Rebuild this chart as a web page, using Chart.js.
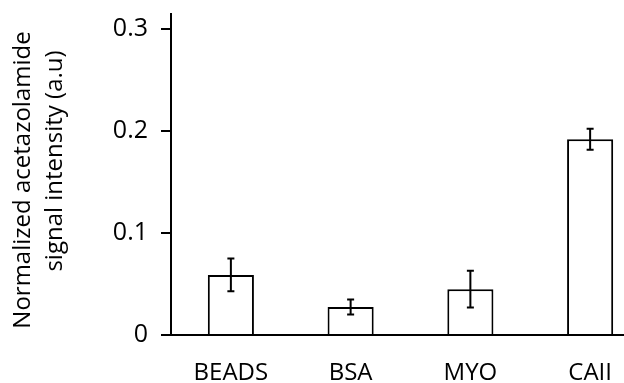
<!DOCTYPE html>
<html>
<head>
<meta charset="utf-8">
<script src="https://cdn.jsdelivr.net/npm/chart.js@4/dist/chart.umd.min.js"></script>
<style>
  html, body { margin: 0; padding: 0; background: #fff; overflow: hidden; }
  #wrap { position: relative; width: 664px; height: 383px; }
</style>
</head>
<body>
<div id="wrap"><canvas id="chart"></canvas></div>
<script>
// data
const categories = ['BEADS', 'BSA', 'MYO', 'CAII'];
const signal = [0.059, 0.0275, 0.045, 0.192];
const signalErr = [0.016, 0.0074, 0.018, 0.0103];
const yTicks = [0, 0.1, 0.2, 0.3];
const yTitle = ['Normalized acetazolamide', 'signal intensity (a.u)'];

const FONT = 'Open Sans';

// error bars drawn from the scales
const errorBars = {
    id: 'errorBars',
    afterDatasetsDraw(chart) {
        const ctx = chart.ctx;
        const y = chart.scales.y;
        const meta = chart.getDatasetMeta(0);
        ctx.save();
        ctx.strokeStyle = '#000';
        ctx.lineWidth = 2;
        meta.data.forEach((bar, i) => {
            const x = bar.x;
            const top = y.getPixelForValue(signal[i] + signalErr[i]);
            const bot = y.getPixelForValue(signal[i] - signalErr[i]);
            ctx.beginPath();
            ctx.moveTo(x, top); ctx.lineTo(x, bot);
            ctx.moveTo(x - 3.5, top); ctx.lineTo(x + 3.5, top);
            ctx.moveTo(x - 3.5, bot); ctx.lineTo(x + 3.5, bot);
            ctx.stroke();
        });
        ctx.restore();
    }
};

// two-line rotated y title
const sideTitle = {
    id: 'sideTitle',
    afterDraw(chart) {
        const ctx = chart.ctx;
        ctx.save();
        ctx.fillStyle = '#000';
        ctx.font = '24px ' + FONT;
        ctx.textAlign = 'center';
        ctx.textBaseline = 'middle';
        ctx.translate(23, 180);
        ctx.rotate(-Math.PI / 2);
        ctx.fillText(yTitle[0], 0, 0);
        ctx.fillText(yTitle[1], 19, 32);
        ctx.restore();
    }
};

const ctx = document.getElementById('chart').getContext('2d');
new Chart(ctx, {
    type: 'bar',
    data: {
        labels: categories,
        datasets: [{
            data: signal,
            backgroundColor: '#fff',
            borderColor: '#000',
            borderWidth: 2,
            barPercentage: 0.385,
            categoryPercentage: 1.0
        }]
    },
    options: {
        responsive: true,
        maintainAspectRatio: false,
        animation: false,
        layout: { padding: { top: 14, right: 14, left: 0, bottom: 0 } },
        plugins: {
            legend: { display: false },
            tooltip: { enabled: false }
        },
        scales: {
            x: {
                afterFit: scale => {
                    scale.height = 48;
                    scale.paddingTop = 0;
                    scale.paddingBottom = 0;
                },
                grid: { display: false, drawTicks: false },
                border: { display: true, color: '#000', width: 2 },
                ticks: {
                    color: '#000',
                    padding: 24,
                    font: { family: FONT, size: 24 }
                }
            },
            y: {
                min: 0,
                max: 0.315,
                afterBuildTicks: scale => { scale.ticks = yTicks.map(v => ({ value: v })); },
                afterFit: scale => {
                    scale.width = 171;
                    scale.paddingTop = 0;
                    scale.paddingBottom = 0;
                },
                grid: { drawOnChartArea: false, drawTicks: true, tickLength: 10, color: '#000', lineWidth: 2 },
                border: { display: true, color: '#000', width: 2 },
                ticks: {
                    color: '#000',
                    padding: 13,
                    font: { family: FONT, size: 25 },
                    callback: v => String(Math.round(v * 10) / 10)
                }
            }
        }
    },
    plugins: [errorBars, sideTitle]
});
</script>
</body>
</html>
